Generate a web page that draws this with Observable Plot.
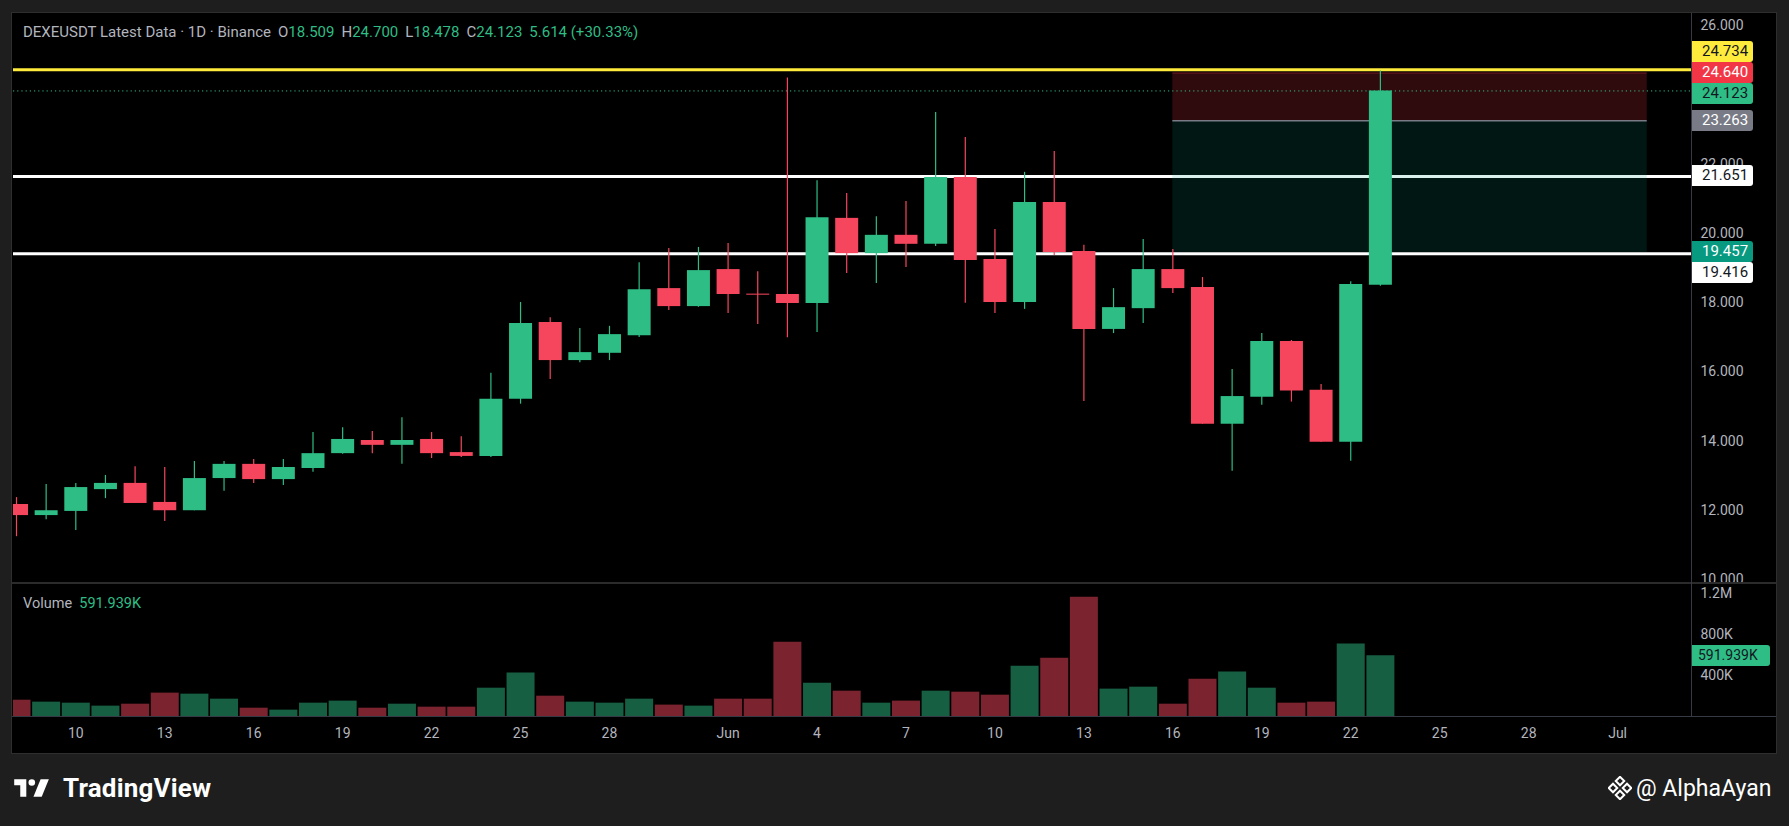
<!DOCTYPE html>
<html>
<head>
<meta charset="utf-8">
<script src="https://cdn.jsdelivr.net/npm/d3@7"></script>
<script src="https://cdn.jsdelivr.net/npm/@observablehq/plot@0.6"></script>
<style>
  html, body { margin: 0; padding: 0; }
  body { width: 1789px; height: 826px; background: #1e1e1e; overflow: hidden; font-family: Roboto, "Noto Sans", sans-serif; position: relative; }
  #panel { position: absolute; left: 11px; top: 12px; width: 1766px; height: 742px; background: #000; border: 1px solid #2e2e2e; box-sizing: border-box; }
  .abs { position: absolute; }
  .sep { position: absolute; background: #2a2e39; }
  #title { left: 23px; top: 23px; font-size: 15px; color: #b2b5be; white-space: pre; }
  #title .grp { margin-left: 7px; }
  .g { color: #2ebd85; }
  .box { position: absolute; height: 21px; line-height: 21px; font-size: 15px; padding-left: 10px; box-sizing: border-box; border-radius: 0 3px 3px 0; white-space: nowrap; }
  #vlegend { left: 23px; top: 595px; font-size: 14.5px; color: #b2b5be; white-space: pre; }
  #logo { left: 14px; top: 774px; height: 28px; display: flex; align-items: center; color: #fff; font-size: 26px; font-weight: 700; letter-spacing: 0.2px; }
  #author { left: 1608px; top: 774px; height: 28px; display: flex; align-items: center; color: #fff; font-size: 23px; }
</style>
</head>
<body>
<div id="panel"></div>
<div id="pricePlot" class="abs" style="left:13px;top:13px;"></div>
<div id="volPlot" class="abs" style="left:13px;top:583px;"></div>
<div class="sep" style="left:12px;top:582px;width:1764px;height:2px;background:#2b2b2b;"></div>
<div class="sep" style="left:12px;top:716px;width:1764px;height:1px;background:#363a45;"></div>
<div class="sep" style="left:1691px;top:13px;width:1px;height:703px;background:#363a45;"></div>
<div id="title" class="abs"></div>
<div id="vlegend" class="abs"></div>
<div id="logo" class="abs">
  <svg width="40" height="22" viewBox="0 0 36 20" style="margin-right:9px">
    <path d="M0 2h11v16H5.5V7.5H0z" fill="#fff"/>
    <circle cx="16" cy="5" r="3" fill="#fff"/>
    <path d="M24 2h7.5l-6.5 16h-7.5z" fill="#fff"/>
  </svg>
  <span>TradingView</span>
</div>
<div id="author" class="abs">
  <svg width="24" height="24" viewBox="0 0 24 24" style="margin-right:4px">
    <g fill="none" stroke="#fff" stroke-width="2">
      <rect x="9" y="2" width="6" height="6" transform="rotate(45 12 5)"/>
      <rect x="2" y="9" width="6" height="6" transform="rotate(45 5 12)"/>
      <rect x="16" y="9" width="6" height="6" transform="rotate(45 19 12)"/>
      <rect x="9" y="16" width="6" height="6" transform="rotate(45 12 19)"/>
    </g>
  </svg>
  <span>@ AlphaAyan</span>
</div>
<script>
// ---------------- data ----------------
const dates = [
  "2024-05-08","2024-05-09","2024-05-10","2024-05-11","2024-05-12","2024-05-13","2024-05-14","2024-05-15",
  "2024-05-16","2024-05-17","2024-05-18","2024-05-19","2024-05-20","2024-05-21","2024-05-22","2024-05-23",
  "2024-05-24","2024-05-25","2024-05-26","2024-05-27","2024-05-28","2024-05-29","2024-05-30","2024-05-31",
  "2024-06-01","2024-06-02","2024-06-03","2024-06-04","2024-06-05","2024-06-06","2024-06-07","2024-06-08",
  "2024-06-09","2024-06-10","2024-06-11","2024-06-12","2024-06-13","2024-06-14","2024-06-15","2024-06-16",
  "2024-06-17","2024-06-18","2024-06-19","2024-06-20","2024-06-21","2024-06-22","2024-06-23"
];
const opens = [12.17,11.85,11.97,12.60,12.78,12.23,11.99,12.92,13.33,12.89,13.21,13.64,14.02,13.88,14.05,13.67,
  13.56,15.21,17.43,16.33,16.54,17.05,18.41,17.89,18.96,18.25,18.24,17.98,20.44,19.42,19.95,19.69,
  21.62,19.25,18.01,20.90,19.48,17.23,17.83,18.96,18.44,14.49,15.27,16.88,15.47,13.97,18.509];
const highs = [12.37,12.75,12.78,13.01,13.26,13.24,13.41,13.41,13.47,13.47,14.25,14.39,14.28,14.68,14.25,14.13,
  15.96,18.01,17.57,17.26,17.32,19.16,19.57,19.60,19.71,18.90,24.50,21.53,21.16,20.49,20.93,23.50,
  22.78,20.12,21.77,22.37,19.66,18.41,19.83,19.54,18.73,16.07,17.11,16.91,15.64,18.61,24.700];
const lows = [11.24,11.73,11.42,12.34,12.20,11.68,11.99,12.55,12.78,12.72,13.10,13.62,13.64,13.33,13.50,13.53,
  13.53,15.07,15.78,16.27,16.33,17.00,17.78,17.87,17.69,17.37,16.99,17.14,18.85,18.56,19.02,19.63,
  17.99,17.69,17.81,19.37,15.15,17.11,17.40,18.27,14.49,13.13,15.04,15.13,13.96,13.42,18.478];
const closes = [11.85,11.99,12.66,12.78,12.20,11.99,12.92,13.33,12.89,13.24,13.64,14.05,13.88,14.02,13.64,13.56,
  15.21,17.40,16.33,16.56,17.08,18.38,17.89,18.93,18.24,18.22,17.98,20.46,19.42,19.95,19.69,21.62,
  19.22,18.01,20.90,19.45,17.23,17.86,18.96,18.41,14.49,15.29,16.88,15.45,13.97,18.53,24.123];
const volumes = [159,140,130,101,120,228,218,169,81,62,130,150,81,120,91,91,
  276,423,198,140,130,169,111,101,169,169,725,325,247,130,150,247,
  237,208,491,569,1164,267,286,120,364,433,276,130,140,706,591.939]; // thousands

const tickDates = ["2024-05-10","2024-05-13","2024-05-16","2024-05-19","2024-05-22","2024-05-25","2024-05-28",
  "2024-06-01","2024-06-04","2024-06-07","2024-06-10","2024-06-13","2024-06-16","2024-06-19","2024-06-22",
  "2024-06-25","2024-06-28","2024-07-01"];
const tickLabels = ["10","13","16","19","22","25","28","Jun","4","7","10","13","16","19","22","25","28","Jul"];
const priceTicks = [10,12,14,16,18,20,22,26]; // 24.000 is hidden behind the price labels
const volumeTicks = [400,800,1200];
const volumeTickLabels = ["400K","800K","1.2M"];

const yellowLevels = [24.734];
const whiteLevels = [21.651, 19.416];
const positionDates = ["2024-06-16","2024-07-02"];
const positionLevels = [24.640, 23.263, 19.457]; // stop, entry, target

// ---------------- colors ----------------
const UP = "#2ebd85", DOWN = "#f6465d";

const candles = dates.map((d, i) => ({
  date: new Date(d), open: opens[i], high: highs[i], low: lows[i], close: closes[i], volume: volumes[i],
  color: closes[i] >= opens[i] ? UP : DOWN
}));

const day = 864e5;
const t0 = Date.UTC(2024, 4, 8);
const xDomain = [new Date(t0 - 0.1012 * day), new Date(t0 + 56.493 * day)];
const font = "Roboto, 'Noto Sans', sans-serif";

const zones = [
  {x1: new Date(positionDates[0]), x2: new Date(positionDates[1]), y1: positionLevels[0], y2: positionLevels[1], fill: "#f23645", op: 0.2},
  {x1: new Date(positionDates[0]), x2: new Date(positionDates[1]), y1: positionLevels[1], y2: positionLevels[2], fill: "#089981", op: 0.15}
];

const pp = Plot.plot({
  width: 1763, height: 570,
  marginLeft: 0, marginRight: 85, marginTop: 0, marginBottom: 0,
  style: {background: "transparent", color: "#b2b5be", fontSize: "14px", fontFamily: font, overflow: "visible"},
  x: {type: "utc", domain: xDomain, axis: null},
  y: {domain: [9.887, 26.361], axis: "right", ticks: priceTicks, tickFormat: d => d.toFixed(3), tickSize: 0, tickPadding: 9, label: null},
  marks: [
    Plot.ruleY(yellowLevels, {stroke: "#ffeb3b", strokeWidth: 3}),
    Plot.ruleY(whiteLevels, {stroke: "#ffffff", strokeWidth: 3}),
    Plot.rect(zones, {x1: "x1", x2: "x2", y1: "y1", y2: "y2", fill: "fill", fillOpacity: "op"}),
    Plot.ruleY([positionLevels[0]], {x1: zones[0].x1, x2: zones[0].x2, stroke: "#f23645", strokeOpacity: 0.35, strokeWidth: 1}),
    Plot.ruleY([positionLevels[1]], {x1: zones[0].x1, x2: zones[0].x2, stroke: "#787b86", strokeWidth: 1.5}),
    Plot.ruleY([closes[closes.length - 1]], {stroke: UP, strokeWidth: 1, strokeDasharray: "1.2,3"}),
    Plot.ruleX(candles, {x: "date", y1: "low", y2: "high", stroke: "color", strokeWidth: 1.2, clip: true}),
    Plot.ruleX(candles, {x: "date", y1: "open", y2: "close", stroke: "color", strokeWidth: 23, clip: true})
  ]
});
document.getElementById("pricePlot").appendChild(pp);

const labelMap = new Map(tickDates.map((d, i) => [+new Date(d), tickLabels[i]]));
const volLabelMap = new Map(volumeTicks.map((v, i) => [v, volumeTickLabels[i]]));

const vp = Plot.plot({
  width: 1763, height: 170,
  marginLeft: 0, marginRight: 85, marginTop: 0, marginBottom: 37,
  style: {background: "transparent", color: "#b2b5be", fontSize: "14px", fontFamily: font, overflow: "visible"},
  x: {type: "utc", domain: xDomain, ticks: tickDates.map(d => new Date(d)), tickFormat: d => labelMap.get(+d), tickSize: 0, tickPadding: 12, label: null},
  y: {domain: [0, 1297], axis: "right", ticks: volumeTicks, tickFormat: d => volLabelMap.get(d), tickSize: 0, tickPadding: 9, label: null},
  marks: [
    Plot.ruleX(candles, {x: "date", y1: 0, y2: "volume", stroke: "color", strokeOpacity: 0.5, strokeWidth: 28, clip: true})
  ]
});
document.getElementById("volPlot").appendChild(vp);

// ---------------- title / legends ----------------
const last = candles[candles.length - 1];
const chg = last.close - last.open;
const pct = chg / last.open * 100;
document.getElementById("title").innerHTML =
  `DEXEUSDT Latest Data · 1D · Binance<span class="grp">O<span class="g">${last.open.toFixed(3)}</span></span>` +
  `<span class="grp">H<span class="g">${last.high.toFixed(3)}</span></span>` +
  `<span class="grp">L<span class="g">${last.low.toFixed(3)}</span></span>` +
  `<span class="grp">C<span class="g">${last.close.toFixed(3)}</span></span>` +
  `<span class="grp g">${chg.toFixed(3)} (+${pct.toFixed(2)}%)</span>`;
document.getElementById("vlegend").innerHTML = `Volume  <span class="g">${last.volume.toFixed(3)}K</span>`;

// ---------------- axis label boxes ----------------
const ys = pp.scale("y");
const vs = vp.scale("y");
const labels = [
  {v: positionLevels[0], bg: "#f23645", fg: "#ffffff", fixed: true},
  {v: positionLevels[2], bg: "#089981", fg: "#ffffff", fixed: true},
  {v: closes[closes.length - 1], bg: UP, fg: "#131722", fixed: false},
  {v: yellowLevels[0], bg: "#ffeb3b", fg: "#131722", fixed: false},
  {v: positionLevels[1], bg: "#787b86", fg: "#ffffff", fixed: false},
  {v: whiteLevels[0], bg: "#ffffff", fg: "#131722", fixed: false},
  {v: whiteLevels[1], bg: "#ffffff", fg: "#131722", fixed: false}
];
const H = 21;
const placed = [];
for (const l of labels) {
  let y = ys.apply(l.v) + 13;
  if (!l.fixed) {
    const nat = y;
    for (let k = 0; k < 6; k++) {
      const hit = placed.find(p => Math.abs(p.y - y) < H);
      if (!hit) break;
      y = nat < hit.y ? hit.y - H : hit.y + H;
    }
  }
  l.y = y;
  placed.push(l);
}
for (const l of labels) {
  const d = document.createElement("div");
  d.className = "box";
  d.style.left = "1692px";
  d.style.width = "61px";
  d.style.top = (l.y - H / 2) + "px";
  d.style.background = l.bg;
  d.style.color = l.fg;
  d.textContent = l.v.toFixed(3);
  document.body.appendChild(d);
}
{
  const d = document.createElement("div");
  d.className = "box";
  d.style.left = "1692px";
  d.style.width = "78px";
  d.style.top = (vs.apply(last.volume) + 583 - H / 2) + "px";
  d.style.background = UP;
  d.style.color = "#131722";
  d.style.fontSize = "14px";
  d.style.paddingLeft = "6px";
  d.textContent = last.volume.toFixed(3) + "K";
  document.body.appendChild(d);
}
</script>
</body>
</html>
